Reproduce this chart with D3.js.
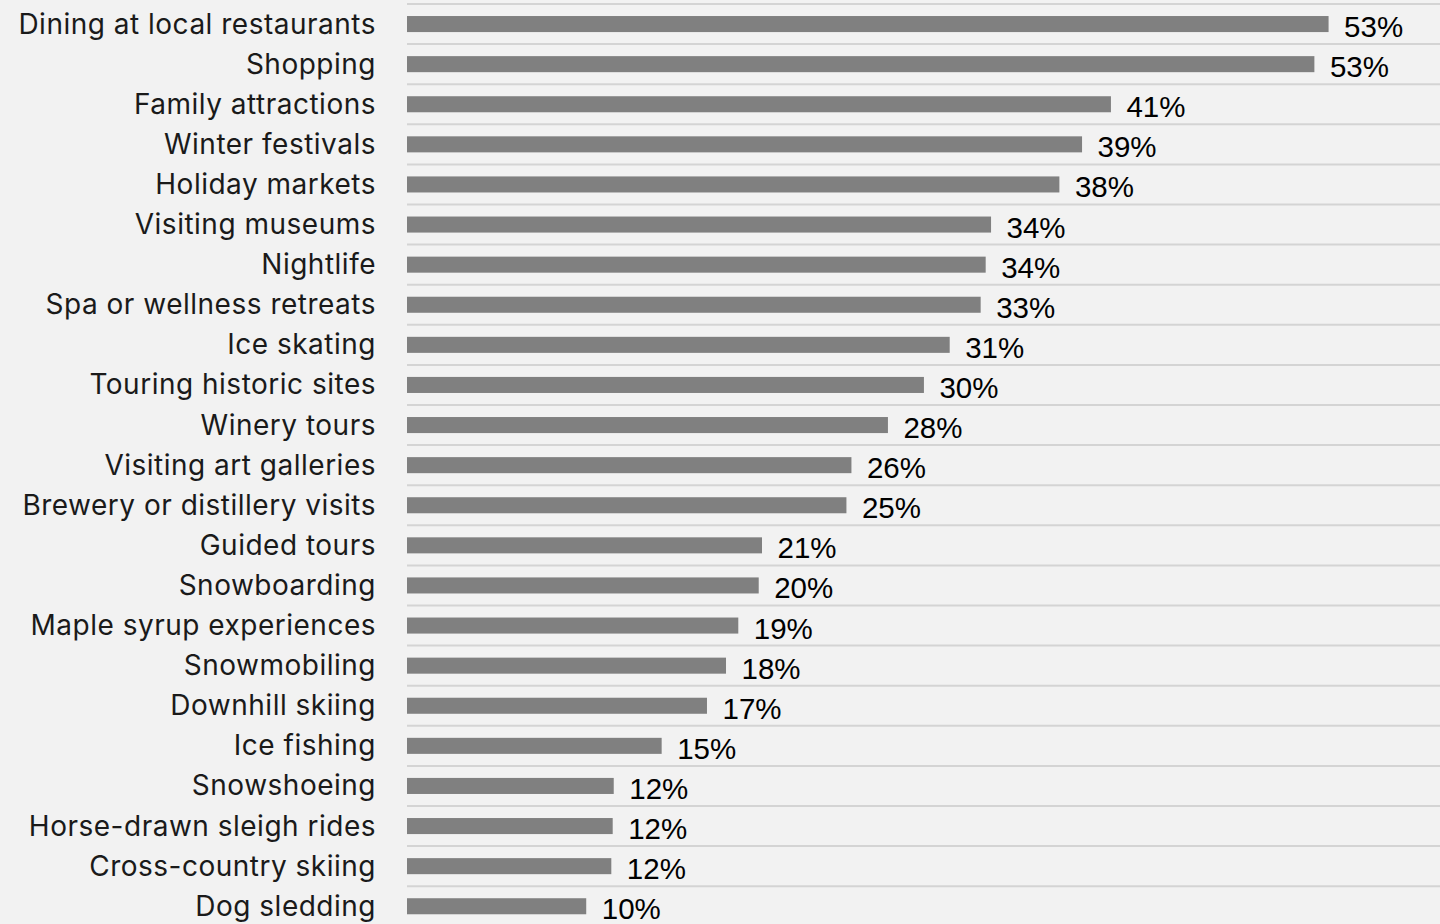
<!DOCTYPE html>
<html>
<head>
<meta charset="utf-8">
<script src="https://cdn.jsdelivr.net/npm/d3@7"></script>
<style>
  html, body { margin: 0; padding: 0; background: #f2f2f2; }
  svg { display: block; }
</style>
</head>
<body>
<svg id="chart" width="1440" height="924"></svg>
<script>
const categories = [
  "Dining at local restaurants", "Shopping", "Family attractions", "Winter festivals",
  "Holiday markets", "Visiting museums", "Nightlife", "Spa or wellness retreats",
  "Ice skating", "Touring historic sites", "Winery tours", "Visiting art galleries",
  "Brewery or distillery visits", "Guided tours", "Snowboarding", "Maple syrup experiences",
  "Snowmobiling", "Downhill skiing", "Ice fishing", "Snowshoeing",
  "Horse-drawn sleigh rides", "Cross-country skiing", "Dog sledding"
];
const values = [
  53.27, 52.45, 40.69, 39.02, 37.71, 33.76, 33.45, 33.16, 31.37, 29.88, 27.80, 25.69,
  25.40, 20.52, 20.33, 19.15, 18.44, 17.34, 14.72, 11.95, 11.89, 11.81, 10.36
];
const valueLabels = [
  "53%", "53%", "41%", "39%", "38%", "34%", "34%", "33%", "31%", "30%", "28%", "26%",
  "25%", "21%", "20%", "19%", "18%", "17%", "15%", "12%", "12%", "12%", "10%"
];

const svg = d3.select("#chart");
const W = 1440, H = 924;
svg.append("rect").attr("width", W).attr("height", H).attr("fill", "#f2f2f2");

const x = d3.scaleLinear().domain([0, 60]).range([407, 1445]);
const y = d3.scaleBand().domain(categories).range([4, 4 + 23 * 40.1])
  .paddingInner(0.6).paddingOuter(0.3);
const step = y.step();
const top0 = y.range()[0];

// gridlines at band boundaries
const gridY = d3.range(categories.length + 1).map(i => top0 + i * step);
svg.append("g").selectAll("line").data(gridY).join("line")
  .attr("x1", 407).attr("x2", W)
  .attr("y1", d => d).attr("y2", d => d)
  .attr("stroke", "#d4d4d4").attr("stroke-width", 2);

const data = categories.map((c, i) => ({ c, v: values[i], l: valueLabels[i] }));

svg.append("g").selectAll("rect").data(data).join("rect")
  .attr("x", x(0))
  .attr("y", d => y(d.c))
  .attr("width", d => x(d.v) - x(0))
  .attr("height", y.bandwidth())
  .attr("fill", "#808080");

svg.append("g").selectAll("text").data(data).join("text")
  .attr("x", d => x(d.v) + 15.5)
  .attr("y", d => y(d.c) + y.bandwidth() / 2 + 13)
  .attr("font-family", "'Liberation Sans', Arial, sans-serif")
  .attr("font-size", 29.5)
  .attr("fill", "#000")
  .text(d => d.l);

svg.append("g").selectAll("text").data(data).join("text")
  .attr("x", 376)
  .attr("y", d => y(d.c) + y.bandwidth() / 2 + 9.5)
  .attr("text-anchor", "end")
  .attr("font-family", "Inter, 'Noto Sans', sans-serif")
  .attr("font-size", 28)
  .attr("letter-spacing", 0.5)
  .attr("fill", "#1a1a1a")
  .text(d => d.c);
</script>
</body>
</html>
